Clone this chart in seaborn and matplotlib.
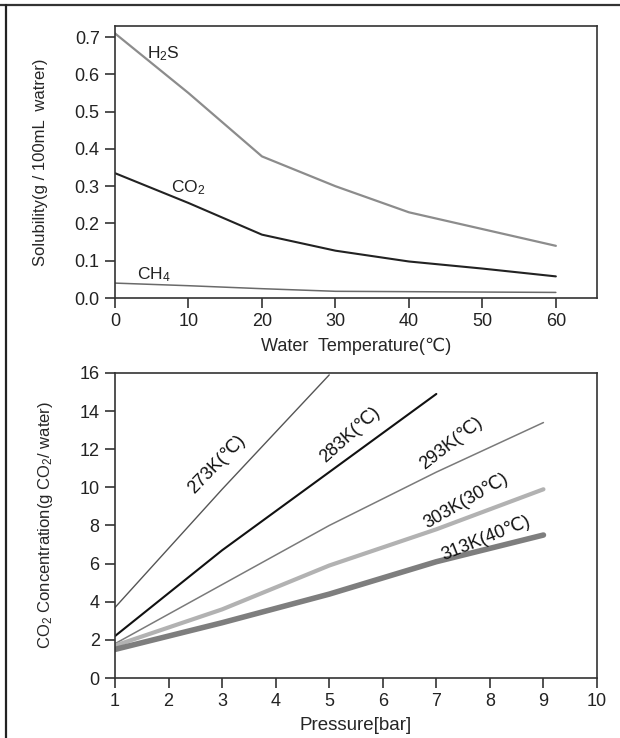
import pandas as pd
import matplotlib
matplotlib.use("Agg")
import matplotlib.pyplot as plt
from matplotlib.lines import Line2D
import seaborn as sns

# Datos del gráfico superior (solubilidad vs temperatura)
temperaturas = [0, 10, 20, 30, 40, 50, 60]
sol_h2s = [0.71, 0.55, 0.38, 0.30, 0.23, 0.185, 0.14]
sol_co2 = [0.335, 0.255, 0.17, 0.127, 0.098, 0.079, 0.058]
sol_ch4 = [0.040, 0.033, 0.025, 0.018, 0.017, 0.016, 0.015]

# Datos del gráfico inferior (concentración de CO2 vs presión)
presion_273 = [1, 2, 3, 4, 5]
conc_273 = [3.7, 6.8, 9.9, 12.9, 15.9]
presion_283 = [1, 3, 5, 7]
conc_283 = [2.2, 6.7, 10.8, 14.9]
presion_rest = [1, 3, 5, 7, 9]
conc_293 = [1.8, 4.9, 8.0, 10.8, 13.4]
conc_303 = [1.7, 3.6, 5.9, 7.8, 9.9]
conc_313 = [1.5, 2.9, 4.4, 6.1, 7.5]

etiquetas_temp = ["273K(℃)", "283K(℃)", "293K(℃)", "303K(30℃)", "313K(40℃)"]

sns.set_style("ticks")
plt.rcParams['font.family'] = ['Liberation Sans', 'DejaVu Sans']
plt.rcParams['mathtext.default'] = 'regular'
plt.rcParams['axes.edgecolor'] = '#333333'
plt.rcParams['axes.linewidth'] = 1.2

fig = plt.figure(figsize=(6.2, 7.38), dpi=100)
ax1 = fig.add_axes([0.1855, 0.5962, 0.7774, 0.3686])
ax2 = fig.add_axes([0.1855, 0.0813, 0.7774, 0.4133])

# --- Gráfico superior ---
df_sol = pd.DataFrame({
    'temp': temperaturas * 3,
    'sol': sol_h2s + sol_co2 + sol_ch4,
    'gas': ['H2S'] * 7 + ['CO2'] * 7 + ['CH4'] * 7,
})
estilos_sup = {'H2S': ('#8c8c8c', 1.6), 'CO2': ('#222222', 1.5), 'CH4': ('#6a6a6a', 1.1)}
for gas, (color, lw) in estilos_sup.items():
    sub = df_sol[df_sol['gas'] == gas]
    sns.lineplot(data=sub, x='temp', y='sol', color=color, linewidth=lw, ax=ax1)

ax1.text(6.6, 0.657, 'H$_2$S', fontsize=12.5, ha='center', va='center', color='#222222')
ax1.text(9.9, 0.295, 'CO$_2$', fontsize=12.5, ha='center', va='center', color='#222222')
ax1.text(5.3, 0.064, 'CH$_4$', fontsize=12.5, ha='center', va='center', color='#222222')

ax1.set_xlim(0, 65.6)
ax1.set_ylim(0, 0.73)
ax1.set_xticks([0, 10, 20, 30, 40, 50, 60])
ax1.set_yticks([0, 0.1, 0.2, 0.3, 0.4, 0.5, 0.6, 0.7])
ax1.set_yticklabels(['0.0', '0.1', '0.2', '0.3', '0.4', '0.5', '0.6', '0.7'])
ax1.set_xlabel('Water  Temperature(℃)', fontsize=13, labelpad=5)
ax1.set_ylabel('Solubility(g / 100mL  watrer)', fontsize=12, labelpad=19)

# --- Gráfico inferior ---
series = [
    (presion_273, conc_273, '#555555', 1.0),
    (presion_283, conc_283, '#111111', 1.5),
    (presion_rest, conc_293, '#7a7a7a', 1.1),
    (presion_rest, conc_303, '#b2b2b2', 3.0),
    (presion_rest, conc_313, '#7e7e7e', 4.0),
]
for (xs, ys, color, lw), nombre in zip(series, etiquetas_temp):
    df = pd.DataFrame({'p': xs, 'c': ys})
    sns.lineplot(data=df, x='p', y='c', color=color, linewidth=lw, ax=ax2)

posiciones = [(2.9, 11.2, 46), (5.38, 12.75, 42), (7.27, 12.3, 38), (7.55, 9.3, 30), (7.92, 7.35, 22)]
for nombre, (px, py, rot) in zip(etiquetas_temp, posiciones):
    ax2.text(px, py, nombre, fontsize=13, rotation=rot, ha='center', va='center',
             color='#111111', rotation_mode='anchor')

ax2.set_xlim(1, 10)
ax2.set_ylim(0, 16)
ax2.set_xticks(range(1, 11))
ax2.set_yticks(range(0, 17, 2))
ax2.set_xlabel('Pressure[bar]', fontsize=13.5, labelpad=5)
ax2.set_ylabel('CO$_2$ Concentration(g CO$_2$/ water)', fontsize=12, labelpad=18)

for ax in (ax1, ax2):
    ax.tick_params(direction='out', length=7, width=1.1, labelsize=13, colors='#222222', pad=4)
    for s in ax.spines.values():
        s.set_visible(True)
        s.set_color('#333333')

# Marco exterior (solo arriba e izquierda)
fig.add_artist(Line2D([0, 1], [1 - 5 / 738, 1 - 5 / 738], transform=fig.transFigure,
                      color='#333333', linewidth=1.6))
fig.add_artist(Line2D([6 / 620, 6 / 620], [0, 1 - 5 / 738], transform=fig.transFigure,
                      color='#222222', linewidth=1.6))

fig.savefig('out.png', dpi=100)
